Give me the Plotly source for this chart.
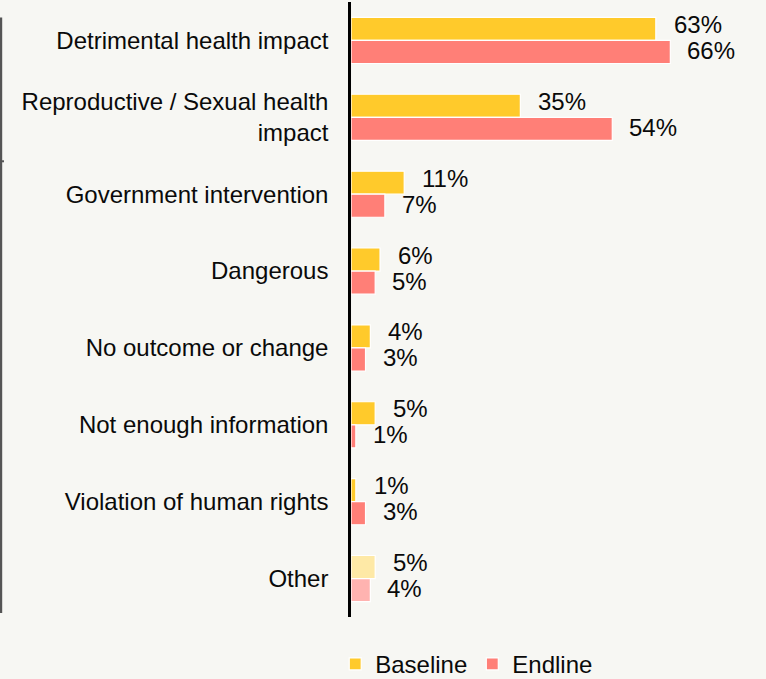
import plotly.graph_objects as go

# Reasons given, top to bottom
categories = [
    "Detrimental health impact",
    "Reproductive / Sexual health<br>impact",
    "Government intervention",
    "Dangerous",
    "No outcome or change",
    "Not enough information",
    "Violation of human rights",
    "Other",
]
baseline = [63, 35, 11, 6, 4, 5, 1, 5]
endline = [66, 54, 7, 5, 3, 1, 3, 4]

YELLOW = "#FFCA2B"
SALMON = "#FF7F77"
YELLOW_LIGHT = "#FEE9A6"
SALMON_LIGHT = "#FFB3B0"
BG = "#F7F7F3"
FONT = "Liberation Sans"
TEXT = "#0a0a0a"

base_colors = [YELLOW] * (len(categories) - 1) + [YELLOW_LIGHT]
end_colors = [SALMON] * (len(categories) - 1) + [SALMON_LIGHT]

fig = go.Figure()
fig.add_trace(go.Bar(
    name="Baseline", y=categories, x=baseline, orientation="h",
    marker=dict(color=base_colors, line=dict(color="white", width=1.2)),
    offsetgroup="b",
))
fig.add_trace(go.Bar(
    name="Endline", y=categories, x=endline, orientation="h",
    marker=dict(color=end_colors, line=dict(color="white", width=1.2)),
    offsetgroup="e",
))

# Value labels just past the end of each bar
for cat, b, e in zip(categories, baseline, endline):
    fig.add_annotation(x=b, y=cat, text=f"{b}%", xanchor="left", yanchor="middle",
                       xshift=16, yshift=16, showarrow=False,
                       font=dict(family=FONT, size=24, color=TEXT))
    fig.add_annotation(x=e, y=cat, text=f"{e}%", xanchor="left", yanchor="middle",
                       xshift=15, yshift=-10, showarrow=False,
                       font=dict(family=FONT, size=24, color=TEXT))

# Thin bracket line on the far left
fig.add_shape(type="line", xref="paper", yref="paper",
              x0=-0.8435, x1=-0.8435, y0=0.975, y1=0.0065,
              line=dict(color="#555", width=2.5))
fig.add_shape(type="line", xref="paper", yref="paper",
              x0=-0.8459, x1=-0.8362, y0=0.741, y1=0.741,
              line=dict(color="#555", width=2))

fig.update_layout(
    width=766, height=679,
    margin=dict(l=351, r=0, t=2, b=62, autoexpand=False),
    paper_bgcolor=BG, plot_bgcolor=BG,
    barmode="group", bargap=0.4, bargroupgap=0.0,
    font=dict(family=FONT, size=24, color=TEXT),
    showlegend=True,
    legend=dict(orientation="h", x=-0.038, xanchor="left", y=-0.077, yanchor="middle",
                font=dict(family=FONT, size=24, color=TEXT),
                itemwidth=30, traceorder="normal", bgcolor="rgba(0,0,0,0)"),
    xaxis=dict(range=[0, 85.77], visible=False, fixedrange=True),
    yaxis=dict(autorange="reversed", showline=True, linecolor="black", linewidth=2.5,
               showgrid=False, zeroline=False, ticks="", ticklabelstandoff=15,
               tickfont=dict(family=FONT, size=24, color=TEXT)),
)

fig.write_html("out.html")
